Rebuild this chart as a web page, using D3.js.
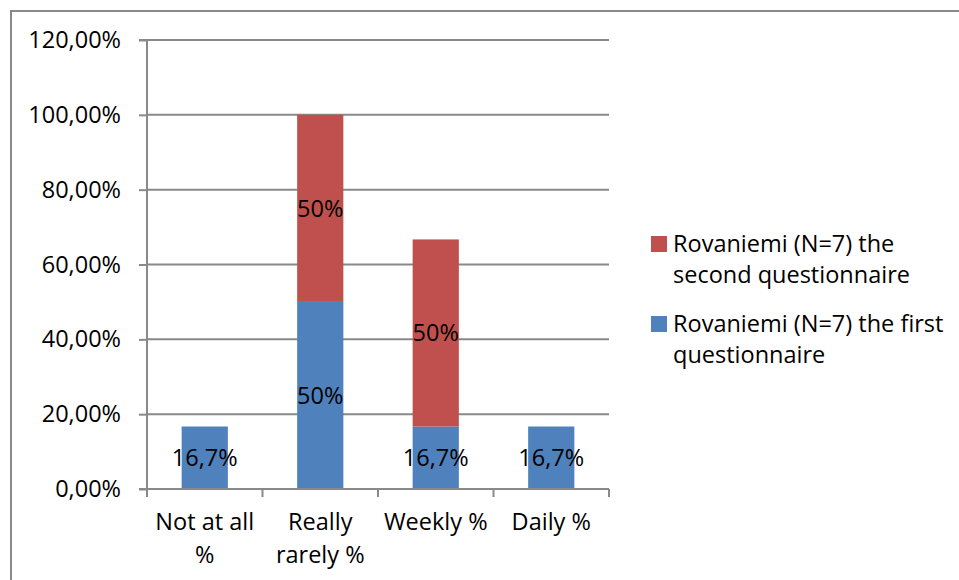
<!DOCTYPE html>
<html><head><meta charset="utf-8">
<script src="https://cdn.jsdelivr.net/npm/d3@7"></script>
<style>
html,body{margin:0;padding:0;background:#fff;}
svg{display:block;font-family:"Open Sans",sans-serif;}
</style></head>
<body><svg id="c" width="959" height="580"></svg>
<script>
const categories = [["Not at all", "%"], ["Really", "rarely %"], ["Weekly %"], ["Daily %"]];
const firstValues = [0.167, 0.50, 0.167, 0.167];
const secondValues = [0, 0.50, 0.50, 0];
const firstLabels = ["16,7%", "50%", "16,7%", "16,7%"];
const secondLabels = ["", "50%", "50%", ""];
const yTicks = [0, 0.2, 0.4, 0.6, 0.8, 1.0, 1.2];
const seriesNames = [["Rovaniemi (N=7) the", "second questionnaire"], ["Rovaniemi (N=7) the first", "questionnaire"]];
const colors = {first: "#4F81BD", second: "#C0504D"};

const FS = 23.5;
const svg = d3.select("#c");
const grid = "#898989";
svg.append("path").attr("d", "M11,590 L11,11 L970,11").attr("fill","none").attr("stroke",grid).attr("stroke-width",2);

const pL = 147, pR = 609, pT = 40, pB = 489;
const y = d3.scaleLinear().domain([0, 1.2]).range([pB, pT]);
const x = d3.scaleBand().domain(d3.range(categories.length)).range([pL, pR]).paddingInner(0.6).paddingOuter(0.3);

const fmt = v => d3.format(".2f")(v*100).replace(".", ",") + "%";

svg.append("g").selectAll("line").data(yTicks.filter(t => t > 0)).join("line")
  .attr("x1", pL).attr("x2", pR).attr("y1", d => y(d)).attr("y2", d => y(d))
  .attr("stroke", grid).attr("stroke-width", 2);

const yAxis = d3.axisLeft(y).tickValues(yTicks).tickFormat(fmt).tickSize(8).tickPadding(18);
const gy = svg.append("g").attr("transform", `translate(${pL},0)`).call(yAxis);
gy.select(".domain").attr("stroke", grid).attr("stroke-width", 2).attr("d", `M-8,${pT}H0V${pB}H-8`);
gy.selectAll(".tick line").attr("stroke", grid).attr("stroke-width", 2);
gy.selectAll(".tick text").attr("font-family", "Open Sans").attr("font-size", FS).attr("fill", "#000");

const stack = categories.map((c, i) => ({i, first: firstValues[i], second: secondValues[i]}));
const bars = svg.append("g");
bars.selectAll("rect.first").data(stack).join("rect").attr("class","first")
  .attr("x", d => x(d.i)).attr("width", x.bandwidth())
  .attr("y", d => y(d.first)).attr("height", d => y(0) - y(d.first)).attr("fill", colors.first);
bars.selectAll("rect.second").data(stack.filter(d => d.second > 0)).join("rect").attr("class","second")
  .attr("x", d => x(d.i)).attr("width", x.bandwidth())
  .attr("y", d => y(d.first + d.second)).attr("height", d => y(d.first) - y(d.first + d.second)).attr("fill", colors.second);

svg.append("line").attr("x1", pL).attr("x2", pR).attr("y1", pB).attr("y2", pB).attr("stroke", grid).attr("stroke-width", 2);
const step = (pR - pL) / categories.length;
svg.append("g").selectAll("line").data(d3.range(categories.length + 1)).join("line")
  .attr("x1", d => pL + d*step).attr("x2", d => pL + d*step).attr("y1", pB).attr("y2", pB + 8)
  .attr("stroke", grid).attr("stroke-width", 2);

const lab = svg.append("g").attr("font-size", FS).attr("fill", "#000").attr("text-anchor", "middle");
stack.forEach(d => {
  lab.append("text").attr("x", x(d.i) + x.bandwidth()/2).attr("y", (y(0) + y(d.first))/2).attr("dy", "0.35em").text(firstLabels[d.i]);
  if (d.second > 0) lab.append("text").attr("x", x(d.i) + x.bandwidth()/2).attr("y", (y(d.first) + y(d.first + d.second))/2).attr("dy", "0.35em").text(secondLabels[d.i]);
});

const cl = svg.append("g").attr("font-size", FS).attr("fill", "#000").attr("text-anchor", "middle");
categories.forEach((lines, i) => {
  lines.forEach((t, j) => {
    cl.append("text").attr("x", x(i) + x.bandwidth()/2).attr("y", 530 + j*33).text(t);
  });
});

const lg = svg.append("g").attr("font-size", FS).attr("fill", "#000");
const legendItems = [{c: colors.second, lines: seriesNames[0], y0: 236}, {c: colors.first, lines: seriesNames[1], y0: 316}];
legendItems.forEach(it => {
  lg.append("rect").attr("x", 651).attr("y", it.y0).attr("width", 16).attr("height", 16).attr("fill", it.c);
  it.lines.forEach((t, j) => lg.append("text").attr("x", 673).attr("y", it.y0 + 16 + j*31).text(t));
});
</script></body></html>
